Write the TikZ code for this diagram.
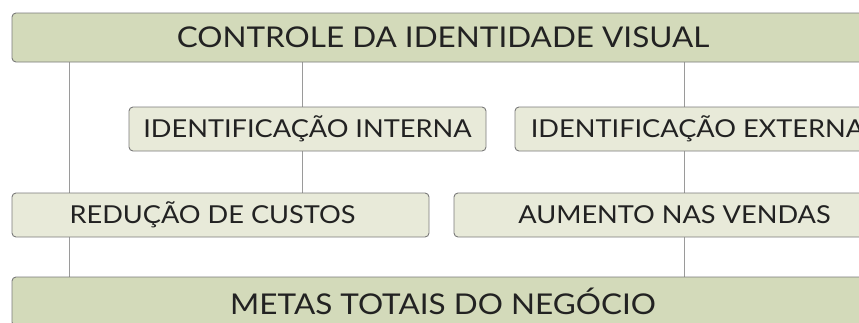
\documentclass[tikz,border=0pt]{standalone}
\usepackage{fontspec}
\setmainfont[FakeStretch=1.1]{Lato}
\usepackage{tikz}
\usetikzlibrary{positioning,backgrounds}

\definecolor{bigfill}{HTML}{D3DABA}
\definecolor{smallfill}{HTML}{E8EAD9}
\definecolor{boxline}{HTML}{7A7A7A}
\definecolor{linkline}{HTML}{9A9A9A}
\definecolor{inktext}{HTML}{222222}

\tikzset{
  bigbox/.style={draw=boxline, fill=bigfill, rounded corners=4pt, line width=0.9pt,
    text=inktext, font=\fontsize{28.6}{32}\selectfont, inner sep=0pt},
  smallbox/.style={draw=boxline, fill=smallfill, rounded corners=4pt, line width=0.9pt,
    text=inktext, font=\fontsize{24.7}{28}\selectfont, inner sep=0pt},
  link/.style={draw=linkline, line width=1pt}
}

\begin{document}
\begin{tikzpicture}[x=1pt, y=-1pt]
    \useasboundingbox (0,0) rectangle (859,322);

    \node[bigbox, minimum width=862pt, minimum height=49pt] (ctrl) at (443,37.5) {CONTROLE DA IDENTIDADE VISUAL};
    \node[smallbox, minimum width=357pt, minimum height=44pt] (idint) at (307.5,129) {IDENTIFICAÇÃO INTERNA};
    \node[smallbox, minimum width=365pt, minimum height=44pt] (idext) at (697.5,129) {IDENTIFICAÇÃO EXTERNA};
    \node[smallbox, minimum width=417pt, minimum height=44pt] (reduc) at (220.5,215) {\hspace*{-16pt}REDUÇÃO DE CUSTOS};
    \node[smallbox, minimum width=441pt, minimum height=44pt] (aumen) at (674.5,215) {AUMENTO NAS VENDAS};
    \node[bigbox, minimum width=862pt, minimum height=49pt] (metas) at (443,301.5) {METAS TOTAIS DO NEGÓCIO};

    \coordinate (left) at (69,0);
    \coordinate (mid) at (302,0);
    \coordinate (right) at (684,0);

    \begin{pgfonlayer}{background}
        \draw[link] (ctrl.south -| left) -- (metas.north -| left);
        \draw[link] (ctrl.south -| mid) -- (reduc.north -| mid);
        \draw[link] (ctrl.south -| right) -- (metas.north -| right);
    \end{pgfonlayer}
\end{tikzpicture}
\end{document}
